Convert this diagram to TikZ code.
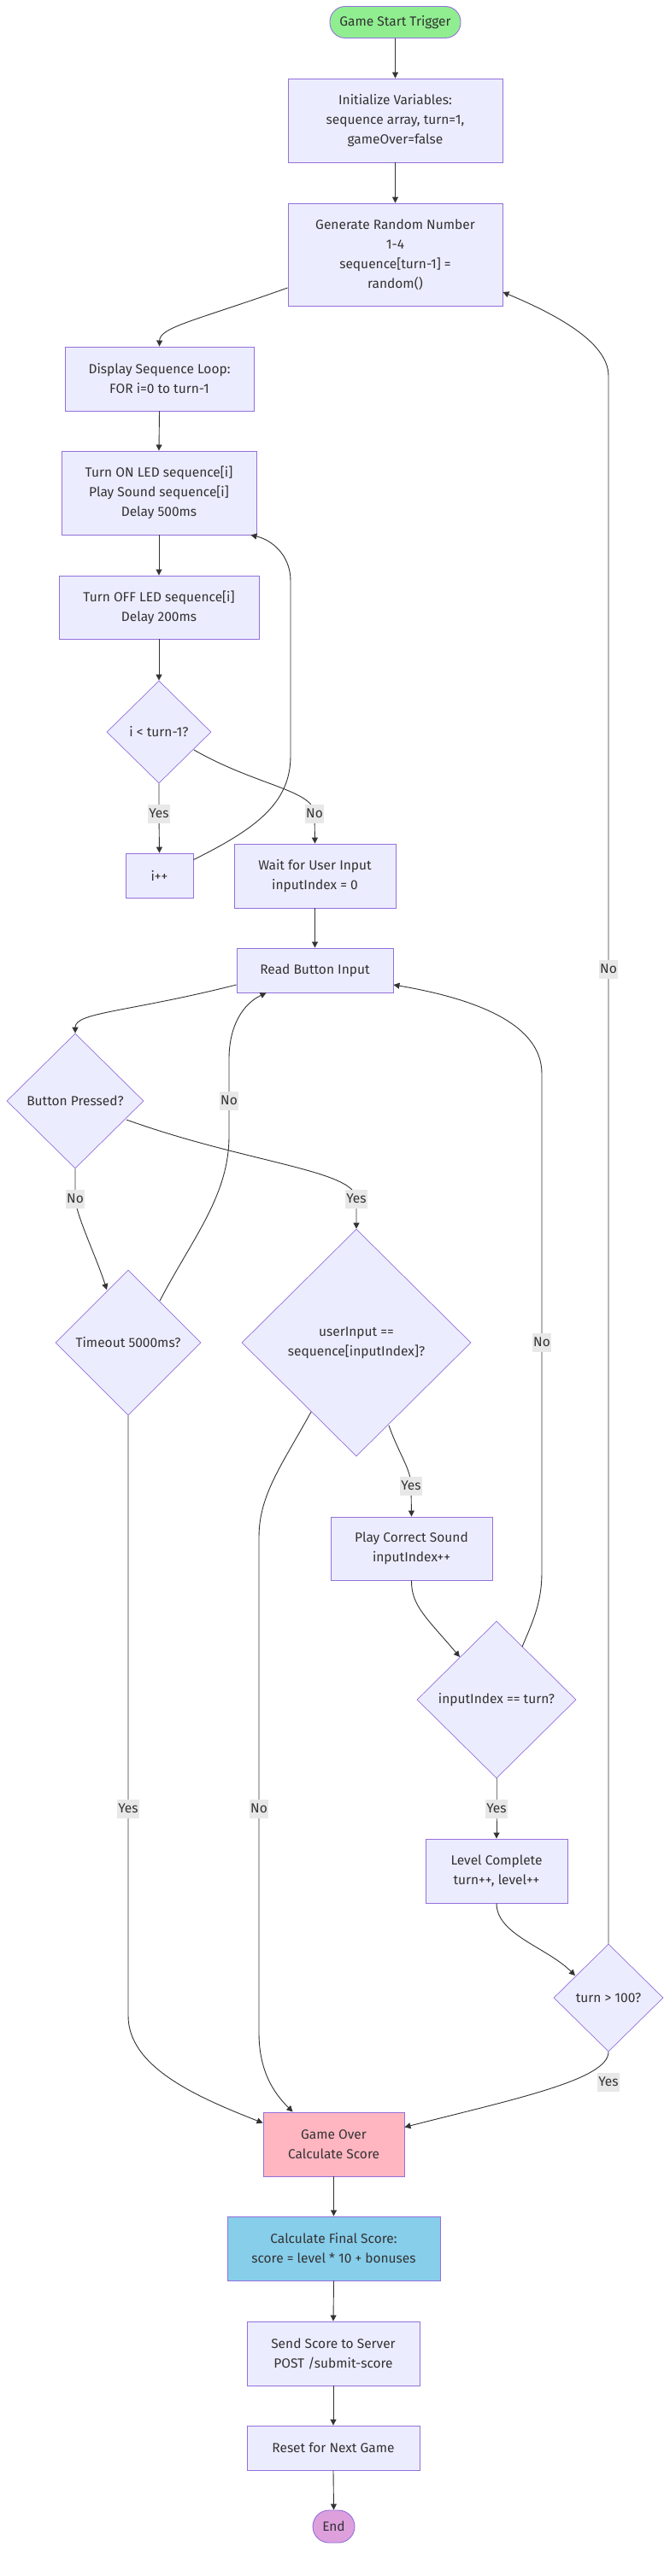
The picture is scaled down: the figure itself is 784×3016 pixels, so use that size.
\documentclass[tikz,border=0pt]{standalone}
\usepackage{fontspec}
\setmainfont{Fira Sans}
\usetikzlibrary{shapes.geometric,arrows.meta,calc}
\definecolor{nfill}{HTML}{ECECFF}
\definecolor{nline}{HTML}{9370DB}
\definecolor{edgec}{HTML}{333333}
\definecolor{txt}{HTML}{333333}
\definecolor{lblbg}{HTML}{E8E8E8}
\definecolor{startc}{HTML}{90EE90}
\definecolor{overc}{HTML}{FFB6C1}
\definecolor{finalc}{HTML}{87CEEB}
\definecolor{endc}{HTML}{DDA0DD}
\begin{document}
\begin{tikzpicture}[x=1pt,y=-1pt,
  font=\fontsize{15.5}{23}\selectfont,
  box/.style={draw=nline, fill=nfill, line width=0.9pt, text=txt, align=center, inner sep=0pt},
  dia/.style={diamond, draw=nline, fill=nfill, line width=0.7pt, text=txt, align=center, inner sep=0pt},
  conn/.style={draw=edgec, line width=0.9pt, -{Triangle[length=7pt,width=7pt]}},
  lbl/.style={fill=lblbg, text=txt, inner xsep=1pt, inner ysep=3pt, text height=12pt, text depth=3.5pt}
]
\fill[white] (0,0) rectangle (784,3016);
\useasboundingbox (0,0) rectangle (784,3016);

% nodes
\node[box, fill=startc, rounded corners=18pt, minimum width=153pt, minimum height=37pt] (start) at (462.5,26) {Game Start Trigger};
\node[box, minimum width=251pt, minimum height=98pt] (init) at (462.5,141) {Initialize Variables:\\sequence array, turn=1,\\gameOver=false};
\node[box, minimum width=251pt, minimum height=120pt] (gen) at (462.5,298) {Generate Random Number\\1-4\\sequence[turn-1] =\\random()};
\node[box, minimum width=221pt, minimum height=75pt] (disp) at (186.5,443.5) {Display Sequence Loop:\\FOR i=0 to turn-1};
\node[box, minimum width=228pt, minimum height=98pt] (ledon) at (186,577) {Turn ON LED sequence[i]\\Play Sound sequence[i]\\Delay 500ms};
\node[box, minimum width=234pt, minimum height=74pt] (ledoff) at (186,711) {Turn OFF LED sequence[i]\\Delay 200ms};
\node[dia, minimum width=122pt, minimum height=120pt] (dloop) at (186,857) {i < turn-1?};
\node[box, minimum width=79pt, minimum height=52pt] (inc) at (186.5,1025) {i++};
\node[box, minimum width=189pt, minimum height=75pt] (wait) at (368.5,1025.5) {Wait for User Input\\inputIndex = 0};
\node[box, minimum width=183pt, minimum height=52pt] (read) at (368.5,1136) {Read Button Input};
\node[dia, minimum width=160pt, minimum height=158pt] (pressed) at (88,1289) {Button Pressed?};
\node[dia, minimum width=170pt, minimum height=170pt] (timeout) at (150,1572) {Timeout 5000ms?};
\node[dia, minimum width=268pt, minimum height=266pt] (match) at (417,1572) {userInput ==\\sequence[inputIndex]?};
\node[box, minimum width=189pt, minimum height=74pt] (correct) at (481.5,1813) {Play Correct Sound\\inputIndex++};
\node[dia, minimum width=186pt, minimum height=184pt] (idx) at (581,1990) {inputIndex == turn?};
\node[box, minimum width=166pt, minimum height=75pt] (level) at (581,2190.5) {Level Complete\\turn++, level++};
\node[dia, minimum width=128pt, minimum height=126pt] (t100) at (712,2339) {turn > 100?};
\node[box, fill=overc, minimum width=165pt, minimum height=75pt] (over) at (390.5,2510.5) {Game Over\\Calculate Score};
\node[box, fill=finalc, minimum width=249pt, minimum height=75pt] (final) at (390.5,2632.5) {Calculate Final Score:\\score = level * 10 + bonuses};
\node[box, minimum width=202pt, minimum height=75pt] (send) at (390,2755.5) {Send Score to Server\\POST /submit-score};
\node[box, minimum width=202pt, minimum height=52pt] (reset) at (390,2866) {Reset for Next Game};
\node[box, fill=endc, rounded corners=19pt, minimum width=49pt, minimum height=38pt] (end) at (390.5,2958) {End};

% connectors
\draw[conn] (start.south) -- (init.north);
\draw[conn] (init.south) -- (gen.north);
\draw[conn] ($(gen.west)+(0,39)$) .. controls (230,375) and (187,383) .. (disp.north);
\draw[conn] (disp.south) -- (ledon.north);
\draw[conn] (ledon.south) -- (ledoff.north);
\draw[conn] (ledoff.south) -- (dloop.north);
\draw[conn] (dloop.south) -- (186,953) node[lbl] {Yes} -- (inc.north);
\draw[conn] ($(dloop.center)+(41,21)$) .. controls (300,920) and (368,925) .. (368,953) node[lbl] {No} -- (wait.north);
\draw[conn] ($(inc.north east)+(0,8)$) .. controls (300,970) and (340,940) .. (340,885) -- (340,680) .. controls (340,650) and (318,632) .. ($(ledon.south east)+(-7,0)$);
\draw[conn] (wait.south) -- (read.north);
\draw[conn] ($(read.west)+(0,17)$) .. controls (150,1185) and (88,1185) .. (pressed.north);
\draw[conn] (pressed.south) -- (88,1404) node[lbl] {No} .. controls (90,1425) and (112,1470) .. ($(timeout.center)+(-25,-62)$);
\draw[conn] ($(pressed.center)+(60,22)$) .. controls (290,1362) and (417,1370) .. (417,1404) node[lbl] {Yes} -- (match.north);
\draw[conn] ($(timeout.center)+(37,-49)$) .. controls (225,1450) and (268,1400) .. (268,1330) -- (268,1289) node[lbl] {No} -- (268,1240) .. controls (268,1200) and (285,1175) .. ($(read.south west)+(35,0)$);
\draw[conn] (timeout.south) -- (150,2118) node[lbl] {Yes} -- (150,2360) .. controls (150,2420) and (230,2455) .. ($(over.west)+(0,-25)$);
\draw[conn] ($(match.center)+(-53,81)$) .. controls (330,1715) and (303,1750) .. (303,1800) -- (303,2118) node[lbl] {No} -- (303,2380) .. controls (303,2430) and (325,2455) .. ($(over.north west)+(35,0)$);
\draw[conn] ($(match.center)+(38,97)$) .. controls (468,1705) and (481,1720) .. (481,1740) node[lbl] {Yes} -- (correct.north);
\draw[conn] (correct.south) .. controls (481,1880) and (500,1895) .. ($(idx.center)+(-43,-50)$);
\draw[conn] ($(idx.center)+(30,-62)$) .. controls (625,1895) and (634,1875) .. (634,1840) -- (634,1572) node[lbl] {No} -- (634,1257) .. controls (634,1200) and (560,1170) .. ($(read.east)+(0,17)$);
\draw[conn] (idx.south) -- (581,2118) node[lbl] {Yes} -- (level.north);
\draw[conn] (level.south) .. controls (581,2265) and (640,2280) .. ($(t100.center)+(-39,-26)$);
\draw[conn] (t100.south) .. controls (712,2435) and (600,2458) .. ($(over.east)+(0,-20)$);
\node[lbl] (lt100yes) at (712,2438) {Yes};
\draw[conn] (t100.north) -- (712,1135) node[lbl] {No} -- (712,440) .. controls (712,400) and (648,367) .. ($(gen.east)+(0,44)$);
\draw[conn] (over.south) -- (final.north);
\draw[conn] (final.south) -- (send.north);
\draw[conn] (send.south) -- (reset.north);
\draw[conn] (reset.south) -- (end.north);
\end{tikzpicture}
\end{document}
